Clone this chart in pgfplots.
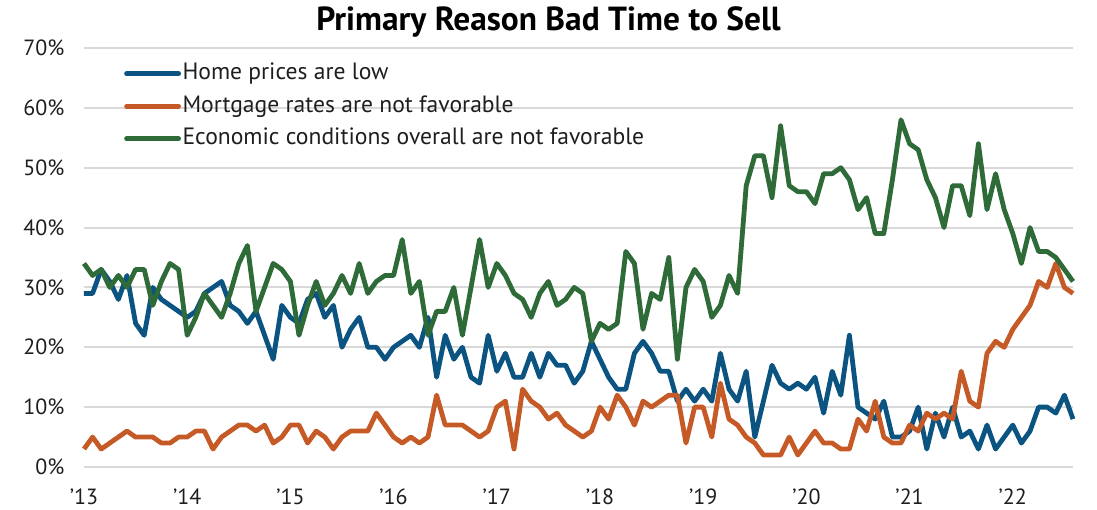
\documentclass[border=0pt]{standalone}
\usepackage{fontspec}
\setmainfont{PT Sans}
\usepackage{pgfplots}
\usepackage{pgfplotstable}
\pgfplotsset{compat=1.18}
\definecolor{cBlue}{RGB}{11,83,128}
\definecolor{cOrange}{RGB}{197,90,38}
\definecolor{cGreen}{RGB}{46,107,56}
\definecolor{cGrid}{RGB}{217,217,217}
\definecolor{cText}{RGB}{30,30,30}

\pgfplotstableread{
i blue orange green
0 29 3 34
1 29 5 32
2 33 3 33
3 31 4 30
4 28 5 32
5 32 6 30
6 24 5 33
7 22 5 33
8 30 5 27
9 28 4 31
10 27 4 34
11 26 5 33
12 25 5 22
13 26 6 25
14 29 6 29
15 30 3 27
16 31 5 25
17 27 6 29
18 26 7 34
19 24 7 37
20 26 6 26
21 22 7 30
22 18 4 34
23 27 5 33
24 25 7 31
25 24 7 22
26 28 4 27
27 29 6 31
28 25 5 27
29 27 3 29
30 20 5 32
31 23 6 29
32 25 6 34
33 20 6 29
34 20 9 31
35 18 7 32
36 20 5 32
37 21 4 38
38 22 5 29
39 20 4 31
40 25 5 22
41 15 12 26
42 22 7 26
43 18 7 30
44 20 7 22
45 15 6 30
46 14 5 38
47 22 6 30
48 16 10 34
49 19 11 32
50 15 3 29
51 15 13 28
52 19 11 25
53 15 10 29
54 19 8 31
55 17 9 27
56 17 7 28
57 14 6 30
58 16 5 29
59 21 6 21
60 18 10 24
61 15 8 23
62 13 12 24
63 13 10 36
64 19 7 34
65 21 11 23
66 19 10 29
67 16 11 28
68 16 12 35
69 11 12 18
70 13 4 30
71 11 10 33
72 13 10 31
73 11 5 25
74 19 14 27
75 13 8 32
76 11 7 29
77 16 5 47
78 5 4 52
79 11 2 52
80 17 2 45
81 14 2 57
82 13 5 47
83 14 2 46
84 13 4 46
85 15 6 44
86 9 4 49
87 16 4 49
88 12 3 50
89 22 3 48
90 10 8 43
91 9 6 45
92 8 11 39
93 11 5 39
94 5 4 48
95 5 4 58
96 6 7 54
97 10 6 53
98 3 9 48
99 9 8 45
100 5 9 40
101 10 8 47
102 5 16 47
103 6 11 42
104 3 10 54
105 7 19 43
106 3 21 49
107 5 20 43
108 7 23 39
109 4 25 34
110 6 27 40
111 10 31 36
112 10 30 36
113 9 34 35
114 12 30 33
115 8 29 31
}\data

\begin{document}
\begin{tikzpicture}
\useasboundingbox (0,0) rectangle (1097pt,510pt);
\begin{axis}[
  at={(84pt,43pt)}, anchor=south west,
  scale only axis, width=989pt, height=419pt,
  xmin=0, xmax=115, ymin=0, ymax=70,
  clip=false,
  xtick={0,12,...,108},
  xticklabels={'13,'14,'15,'16,'17,'18,'19,'20,'21,'22},
  ytick={0,10,...,70},
  yticklabels={0\%,10\%,20\%,30\%,40\%,50\%,60\%,70\%},
  ymajorgrids,
  major grid style={cGrid, line width=2pt},
  axis line style={draw=none},
  major tick length=0pt,
  tick label style={font=\fontsize{22}{24}\selectfont, text=cText},
  xticklabel style={anchor=center, yshift=-30pt},
  yticklabel style={anchor=east, xshift=-16pt},
  legend style={at={(rel axis cs:0,1)}, anchor=north west, xshift=37pt, yshift=-11pt,
    draw=none, fill=none, font=\fontsize{23.6}{26}\selectfont, text=cText,
    row sep=7.5pt, nodes={inner sep=1.5pt, text height=17pt, text depth=5pt}},
  legend cell align=left,
  legend image code/.code={\draw[#1, line cap=round] (0pt,0pt) -- (52pt,0pt);},
]
\addplot[cBlue, line width=4.8pt, line join=round] table[x=i, y=blue]{\data};
\addlegendentry{Home prices are low}
\addplot[cOrange, line width=4.8pt, line join=round] table[x=i, y=orange]{\data};
\addlegendentry{Mortgage rates are not favorable}
\addplot[cGreen, line width=4.8pt, line join=round] table[x=i, y=green]{\data};
\addlegendentry{Economic conditions overall are not favorable}
\end{axis}
\node[font=\fontsize{33.4}{36}\selectfont\bfseries, text=black] at (548.5pt,488pt) {Primary Reason Bad Time to Sell};
\end{tikzpicture}
\end{document}
